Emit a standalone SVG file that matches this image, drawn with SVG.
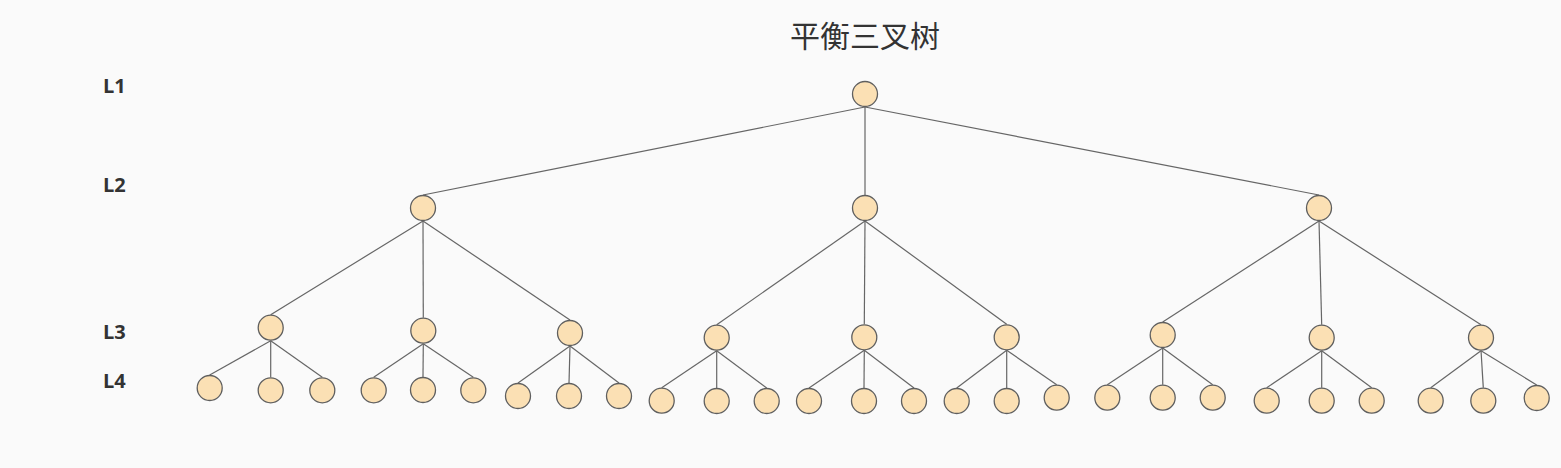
<svg xmlns="http://www.w3.org/2000/svg" width="1561" height="468" viewBox="0 0 1561 468">
<style>
.bg{fill:#fafafa}
.n{fill:#fbe0b4;stroke:#5f5f5f;stroke-width:1.3}
.e{stroke:#666;stroke-width:1.2;fill:none}
.t{font-family:"Noto Sans CJK SC","Noto Sans",sans-serif;font-size:30px;fill:#333;text-anchor:middle}
.l{font-family:"Open Sans","Noto Sans",sans-serif;font-size:20px;font-weight:bold;fill:#333}
</style>
<rect class="bg" x="0" y="0" width="1561" height="468"/>
<text class="t" x="865" y="47">平衡三叉树</text>
<g id="labels">
<text class="l" x="103" y="93">L1</text>
<text class="l" x="103" y="192">L2</text>
<text class="l" x="103" y="339">L3</text>
<text class="l" x="103" y="388">L4</text>
</g>
<g id="connectors">
<line class="e" x1="865" y1="107" x2="423" y2="195"/>
<line class="e" x1="865" y1="107" x2="865" y2="195"/>
<line class="e" x1="865" y1="107" x2="1319" y2="195"/>
<line class="e" x1="423" y1="221" x2="270.7" y2="314.7"/>
<line class="e" x1="423" y1="221" x2="423.3" y2="317.7"/>
<line class="e" x1="423" y1="221" x2="570" y2="320"/>
<line class="e" x1="865" y1="221" x2="716.7" y2="324.7"/>
<line class="e" x1="865" y1="221" x2="864.3" y2="324.3"/>
<line class="e" x1="865" y1="221" x2="1006.7" y2="324.3"/>
<line class="e" x1="1319" y1="221" x2="1162.7" y2="322"/>
<line class="e" x1="1319" y1="221" x2="1321.7" y2="324.7"/>
<line class="e" x1="1319" y1="221" x2="1481" y2="324.7"/>
<line class="e" x1="270.7" y1="340.7" x2="209.7" y2="375"/>
<line class="e" x1="270.7" y1="340.7" x2="270.7" y2="377.3"/>
<line class="e" x1="270.7" y1="340.7" x2="322.3" y2="377.3"/>
<line class="e" x1="423.3" y1="343.7" x2="373.7" y2="377.3"/>
<line class="e" x1="423.3" y1="343.7" x2="423" y2="377"/>
<line class="e" x1="423.3" y1="343.7" x2="473.3" y2="377.3"/>
<line class="e" x1="570" y1="346" x2="518" y2="383"/>
<line class="e" x1="570" y1="346" x2="569" y2="383"/>
<line class="e" x1="570" y1="346" x2="619" y2="383"/>
<line class="e" x1="716.7" y1="350.7" x2="661.7" y2="387.7"/>
<line class="e" x1="716.7" y1="350.7" x2="716.7" y2="388"/>
<line class="e" x1="716.7" y1="350.7" x2="766.7" y2="388"/>
<line class="e" x1="864.3" y1="350.3" x2="809" y2="388"/>
<line class="e" x1="864.3" y1="350.3" x2="864" y2="388"/>
<line class="e" x1="864.3" y1="350.3" x2="914" y2="388"/>
<line class="e" x1="1006.7" y1="350.3" x2="956.7" y2="388"/>
<line class="e" x1="1006.7" y1="350.3" x2="1006.7" y2="388"/>
<line class="e" x1="1006.7" y1="350.3" x2="1056.7" y2="384.7"/>
<line class="e" x1="1162.7" y1="348" x2="1107.3" y2="384.7"/>
<line class="e" x1="1162.7" y1="348" x2="1162.7" y2="384.7"/>
<line class="e" x1="1162.7" y1="348" x2="1212.7" y2="384.7"/>
<line class="e" x1="1321.7" y1="350.7" x2="1266.7" y2="387.7"/>
<line class="e" x1="1321.7" y1="350.7" x2="1321.7" y2="387.7"/>
<line class="e" x1="1321.7" y1="350.7" x2="1371.7" y2="387.7"/>
<line class="e" x1="1481" y1="350.7" x2="1430.7" y2="387.7"/>
<line class="e" x1="1481" y1="350.7" x2="1483.3" y2="387.7"/>
<line class="e" x1="1481" y1="350.7" x2="1536.7" y2="385"/>
</g>
<g id="root"><circle class="n" cx="865" cy="94" r="12.5"/></g>
<g id="l2-a"><circle class="n" cx="423" cy="208" r="12.5"/></g>
<g id="l2-b"><circle class="n" cx="865" cy="208" r="12.5"/></g>
<g id="l2-c"><circle class="n" cx="1319" cy="208" r="12.5"/></g>
<g id="l3-a1"><circle class="n" cx="270.7" cy="327.7" r="12.5"/></g>
<g id="l3-a2"><circle class="n" cx="423.3" cy="330.7" r="12.5"/></g>
<g id="l3-a3"><circle class="n" cx="570" cy="333" r="12.5"/></g>
<g id="l3-b1"><circle class="n" cx="716.7" cy="337.7" r="12.5"/></g>
<g id="l3-b2"><circle class="n" cx="864.3" cy="337.3" r="12.5"/></g>
<g id="l3-b3"><circle class="n" cx="1006.7" cy="337.3" r="12.5"/></g>
<g id="l3-c1"><circle class="n" cx="1162.7" cy="335" r="12.5"/></g>
<g id="l3-c2"><circle class="n" cx="1321.7" cy="337.7" r="12.5"/></g>
<g id="l3-c3"><circle class="n" cx="1481" cy="337.7" r="12.5"/></g>
<g id="l4-1"><circle class="n" cx="209.7" cy="388" r="12.5"/></g>
<g id="l4-2"><circle class="n" cx="270.7" cy="390.3" r="12.5"/></g>
<g id="l4-3"><circle class="n" cx="322.3" cy="390.3" r="12.5"/></g>
<g id="l4-4"><circle class="n" cx="373.7" cy="390.3" r="12.5"/></g>
<g id="l4-5"><circle class="n" cx="423" cy="390" r="12.5"/></g>
<g id="l4-6"><circle class="n" cx="473.3" cy="390.3" r="12.5"/></g>
<g id="l4-7"><circle class="n" cx="518" cy="396" r="12.5"/></g>
<g id="l4-8"><circle class="n" cx="569" cy="396" r="12.5"/></g>
<g id="l4-9"><circle class="n" cx="619" cy="396" r="12.5"/></g>
<g id="l4-10"><circle class="n" cx="661.7" cy="400.7" r="12.5"/></g>
<g id="l4-11"><circle class="n" cx="716.7" cy="401" r="12.5"/></g>
<g id="l4-12"><circle class="n" cx="766.7" cy="401" r="12.5"/></g>
<g id="l4-13"><circle class="n" cx="809" cy="401" r="12.5"/></g>
<g id="l4-14"><circle class="n" cx="864" cy="401" r="12.5"/></g>
<g id="l4-15"><circle class="n" cx="914" cy="401" r="12.5"/></g>
<g id="l4-16"><circle class="n" cx="956.7" cy="401" r="12.5"/></g>
<g id="l4-17"><circle class="n" cx="1006.7" cy="401" r="12.5"/></g>
<g id="l4-18"><circle class="n" cx="1056.7" cy="397.7" r="12.5"/></g>
<g id="l4-19"><circle class="n" cx="1107.3" cy="397.7" r="12.5"/></g>
<g id="l4-20"><circle class="n" cx="1162.7" cy="397.7" r="12.5"/></g>
<g id="l4-21"><circle class="n" cx="1212.7" cy="397.7" r="12.5"/></g>
<g id="l4-22"><circle class="n" cx="1266.7" cy="400.7" r="12.5"/></g>
<g id="l4-23"><circle class="n" cx="1321.7" cy="400.7" r="12.5"/></g>
<g id="l4-24"><circle class="n" cx="1371.7" cy="400.7" r="12.5"/></g>
<g id="l4-25"><circle class="n" cx="1430.7" cy="400.7" r="12.5"/></g>
<g id="l4-26"><circle class="n" cx="1483.3" cy="400.7" r="12.5"/></g>
<g id="l4-27"><circle class="n" cx="1536.7" cy="398" r="12.5"/></g>
</svg>
